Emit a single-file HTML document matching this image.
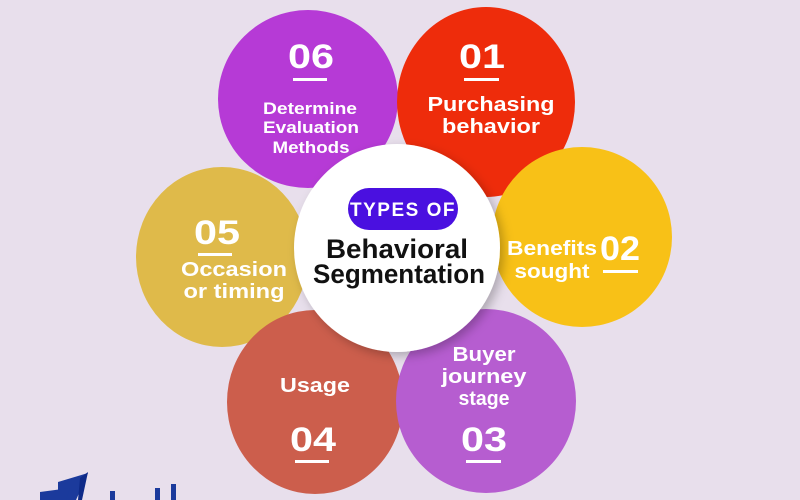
<!DOCTYPE html>
<html><head><style>
html,body{margin:0;padding:0;background:#e8dfec;}
svg{display:block}
text{font-family:"Liberation Sans",sans-serif;font-weight:bold;}
</style></head><body>
<svg width="800" height="500" viewBox="0 0 800 500" xmlns="http://www.w3.org/2000/svg">
<defs>
<filter id="sh" x="-20%" y="-20%" width="140%" height="140%"><feDropShadow dx="4" dy="4" stdDeviation="5" flood-color="#000" flood-opacity="0.25"/></filter>
</defs>
<rect width="800" height="500" fill="#e8dfec"/>
<ellipse cx="308" cy="99" rx="90" ry="89" fill="#b63ad6"/>
<ellipse cx="486" cy="102" rx="89" ry="95" fill="#ee2c0b"/>
<ellipse cx="582" cy="237" rx="90" ry="90" fill="#f8c117"/>
<ellipse cx="222" cy="257" rx="86" ry="90" fill="#dfba4a"/>
<ellipse cx="315" cy="402" rx="88" ry="92" fill="#cc5e4c"/>
<ellipse cx="486" cy="401" rx="90" ry="92" fill="#b65dd0"/>
<ellipse cx="397" cy="248" rx="103" ry="104" fill="#fff" filter="url(#sh)"/>
<rect x="348" y="188" width="110" height="42" rx="21" fill="#4a10e0"/>
<text x="403" y="216" font-size="19" fill="#fff" text-anchor="middle" letter-spacing="1.5">TYPES OF</text>
<text x="397" y="258" font-size="27" fill="#111" text-anchor="middle" textLength="142" lengthAdjust="spacingAndGlyphs">Behavioral</text>
<text x="399" y="283" font-size="27" fill="#111" text-anchor="middle" textLength="172" lengthAdjust="spacingAndGlyphs">Segmentation</text>
<g fill="#fff" text-anchor="middle">
<text x="311" y="68" font-size="34" textLength="46" lengthAdjust="spacingAndGlyphs">06</text>
<rect x="293" y="78" width="34" height="3"/>
<text x="310" y="114" font-size="17" textLength="94" lengthAdjust="spacingAndGlyphs">Determine</text>
<text x="311" y="133" font-size="17" textLength="96" lengthAdjust="spacingAndGlyphs">Evaluation</text>
<text x="311" y="153" font-size="17" textLength="77" lengthAdjust="spacingAndGlyphs">Methods</text>
<text x="482" y="68" font-size="34" textLength="46" lengthAdjust="spacingAndGlyphs">01</text>
<rect x="464" y="78" width="35" height="3"/>
<text x="491" y="111" font-size="20" textLength="127" lengthAdjust="spacingAndGlyphs">Purchasing</text>
<text x="491" y="133" font-size="20" textLength="98" lengthAdjust="spacingAndGlyphs">behavior</text>
<text x="552" y="255" font-size="20" textLength="90" lengthAdjust="spacingAndGlyphs">Benefits</text>
<text x="620" y="260" font-size="34" textLength="40" lengthAdjust="spacingAndGlyphs">02</text>
<rect x="603" y="270" width="35" height="3"/>
<text x="552" y="278" font-size="20" textLength="75" lengthAdjust="spacingAndGlyphs">sought</text>
<text x="217" y="244" font-size="34" textLength="46" lengthAdjust="spacingAndGlyphs">05</text>
<rect x="198" y="253" width="34" height="3"/>
<text x="234" y="276" font-size="20" textLength="106" lengthAdjust="spacingAndGlyphs">Occasion</text>
<text x="234" y="298" font-size="20" textLength="101" lengthAdjust="spacingAndGlyphs">or timing</text>
<text x="315" y="392" font-size="20" textLength="70" lengthAdjust="spacingAndGlyphs">Usage</text>
<text x="313" y="451" font-size="34" textLength="46" lengthAdjust="spacingAndGlyphs">04</text>
<rect x="295" y="460" width="34" height="3"/>
<text x="484" y="361" font-size="20" textLength="63" lengthAdjust="spacingAndGlyphs">Buyer</text>
<text x="484" y="383" font-size="20" textLength="85" lengthAdjust="spacingAndGlyphs">journey</text>
<text x="484" y="405" font-size="20" textLength="51" lengthAdjust="spacingAndGlyphs">stage</text>
<text x="484" y="451" font-size="34" textLength="46" lengthAdjust="spacingAndGlyphs">03</text>
<rect x="466" y="460" width="35" height="3"/>
</g>
<polygon points="58,482 88,473 76,500 58,500" fill="#1b3a9c"/>
<polygon points="80,478 88,472 82,500 78,500" fill="#0e2a88"/>
<polygon points="40,492 70,488 66,500 40,500" fill="#1b3a9c"/>
<rect x="110" y="491" width="5" height="9" fill="#1b3a9c"/>
<rect x="155" y="488" width="5" height="12" fill="#1b3a9c"/>
<rect x="171" y="484" width="5" height="16" fill="#1b3a9c"/>
</svg>
</body></html>
